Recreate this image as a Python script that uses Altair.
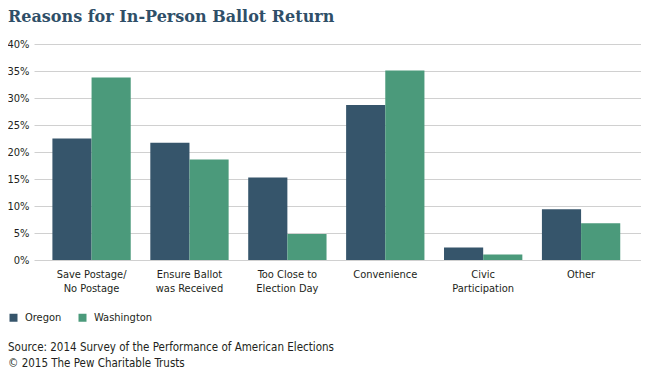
import altair as alt
import pandas as pd

categories = ["Save Postage/|No Postage", "Ensure Ballot|was Received", "Too Close to|Election Day",
              "Convenience", "Civic|Participation", "Other"]
states = ["Oregon", "Washington"]
oregon = [22.5, 21.7, 15.3, 28.7, 2.3, 9.4]
washington = [33.8, 18.6, 4.8, 35.1, 1.0, 6.8]
y_ticks = [0, 5, 10, 15, 20, 25, 30, 35, 40]
title_text = "Reasons for In-Person Ballot Return"
source_text = "Source: 2014 Survey of the Performance of American Elections"
copyright_text = "\u00a9 2015 The Pew Charitable Trusts"

rows = []
for c, o, w in zip(categories, oregon, washington):
    rows.append({"category": c, "state": "Oregon", "value": o})
    rows.append({"category": c, "state": "Washington", "value": w})
df = pd.DataFrame(rows)

FONT = "DejaVu Sans Condensed, Roboto, sans-serif"
TITLE_FONT = "DejaVu Serif"
TEXT_COLOR = "#231f20"

bars = alt.Chart(df).mark_bar().encode(
    x=alt.X("category:N", sort=categories, title=None,
            scale=alt.Scale(paddingInner=0.2, paddingOuter=0.2, align=0.47),
            axis=alt.Axis(labelExpr="split(datum.label, '|')", labelAngle=0,
                          labelFontSize=11, labelLineHeight=14, labelPadding=8,
                          labelColor=TEXT_COLOR, labelFont=FONT,
                          ticks=False, domain=False, grid=False)),
    xOffset=alt.XOffset("state:N", sort=states),
    y=alt.Y("value:Q", title=None,
            scale=alt.Scale(domain=[0, 40], nice=False),
            axis=alt.Axis(values=y_ticks, labelExpr="datum.value + '%'",
                          labelFontSize=11, labelFont=FONT, labelColor=TEXT_COLOR,
                          labelPadding=5, ticks=False, domain=False,
                          gridColor="#d0d0d0", gridWidth=1)),
    color=alt.Color("state:N", sort=states,
                    scale=alt.Scale(domain=states, range=["#36556b", "#4b9a7b"]),
                    legend=alt.Legend(title=None, orient="none", direction="horizontal",
                                      legendX=-26, legendY=268, symbolType="square",
                                      symbolSize=64, symbolStrokeWidth=0,
                                      labelFont=FONT, labelFontSize=11, labelColor=TEXT_COLOR,
                                      labelOffset=6, columnPadding=15, padding=0)),
)

title = alt.Chart(pd.DataFrame({"t": [title_text]})).mark_text(
    align="left", baseline="alphabetic", font=TITLE_FONT, fontSize=16,
    fontWeight="bold", color="#2f4f68"
).encode(text="t:N", x=alt.value(-26), y=alt.value(-22))

source = alt.Chart(pd.DataFrame({"t": [source_text]})).mark_text(
    align="left", baseline="middle", font=FONT, fontSize=11.5, color=TEXT_COLOR
).encode(text="t:N", x=alt.value(-26), y=alt.value(304))

copyright_ = alt.Chart(pd.DataFrame({"t": [copyright_text]})).mark_text(
    align="left", baseline="middle", font=FONT, fontSize=11.5, color=TEXT_COLOR
).encode(text="t:N", x=alt.value(-26), y=alt.value(320))

chart = alt.layer(bars, title, source, copyright_).properties(
    width=607, height=216,
    autosize=alt.AutoSizeParams(type="none"),
    padding={"left": 26, "top": 36, "right": 0, "bottom": 110},
).configure_view(stroke=None)

chart.save("out.html", embed_options={"renderer": "svg", "actions": False})
